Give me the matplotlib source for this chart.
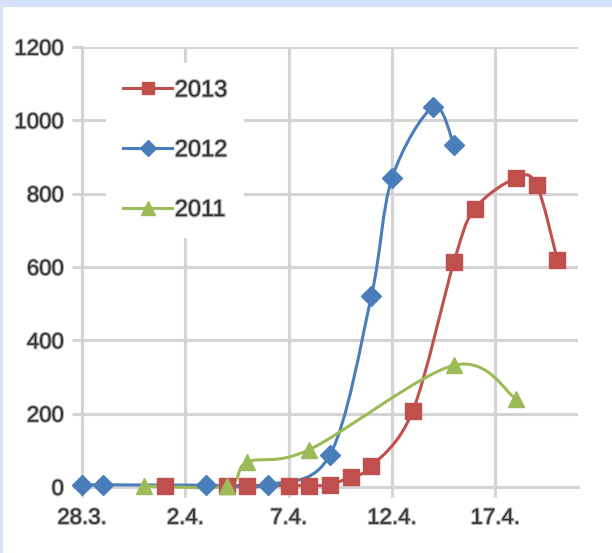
import matplotlib
matplotlib.use("Agg")
import matplotlib.pyplot as plt
import matplotlib.patches as mpatches
import matplotlib.patheffects as pe
from matplotlib.path import Path
from matplotlib.lines import Line2D
from datetime import datetime

# data (date "d.m", value)
dates_2013 = ["1.4", "4.4", "5.4", "7.4", "8.4", "9.4", "10.4", "11.4", "13.4",
              "15.4", "16.4", "18.4", "19.4", "20.4"]
vals_2013 = [4, 4, 4, 4, 4, 6, 28, 56, 207, 614, 758, 843, 823, 620]

dates_2012 = ["28.3", "29.3", "3.4", "6.4", "9.4", "11.4", "12.4", "14.4", "15.4"]
vals_2012 = [6, 6, 5, 6, 88, 520, 842, 1036, 932]

dates_2011 = ["31.3", "4.4", "5.4", "8.4", "15.4", "18.4"]
vals_2011 = [3, 3, 68, 102, 332, 240]

tick_labels = ["28.3.", "2.4.", "7.4.", "12.4.", "17.4."]
tick_dates = ["28.3", "2.4", "7.4", "12.4", "17.4"]

START = datetime(2013, 3, 28)


def day_no(d):
    return (datetime.strptime(d + ".2013", "%d.%m.%Y") - START).days


def smooth_path(xs, ys):
    # excel-like smoothed line (catmull-rom as cubic bezier)
    pts = list(zip(xs, ys))
    verts = [pts[0]]
    codes = [Path.MOVETO]
    n = len(pts)
    for i in range(n - 1):
        p0 = pts[i - 1] if i > 0 else pts[i]
        p1 = pts[i]
        p2 = pts[i + 1]
        p3 = pts[i + 2] if i + 2 < n else pts[i + 1]
        c1 = (p1[0] + (p2[0] - p0[0]) / 6, p1[1] + (p2[1] - p0[1]) / 6)
        c2 = (p2[0] - (p3[0] - p1[0]) / 6, p2[1] - (p3[1] - p1[1]) / 6)
        verts += [c1, c2, p2]
        codes += [Path.CURVE4] * 3
    return Path(verts, codes)


series = [
    ("2013", dates_2013, vals_2013, "#C0504D", "s", 11),
    ("2012", dates_2012, vals_2012, "#4A7EBB", "D", 10),
    ("2011", dates_2011, vals_2011, "#9BBB59", "^", 12),
]

fig = plt.figure(figsize=(6.12, 5.53), dpi=100, facecolor="white")
# lavender frame at top and left
fig.patches.append(mpatches.Rectangle((0, 1 - 7 / 553), 1, 7 / 553, transform=fig.transFigure,
                                      facecolor="#D5E0FB", edgecolor="none", zorder=0))
fig.patches.append(mpatches.Rectangle((0, 0), 3 / 612, 1, transform=fig.transFigure,
                                      facecolor="#D5E0FB", edgecolor="none", zorder=0))

ax = fig.add_axes([82 / 612, 66 / 553, 496 / 612, 440 / 553])
ax.set_facecolor("white")

grid_c = "#D4D4D4"
halo = [pe.withStroke(linewidth=1.6, foreground="#B0B0B0")]
handles = []
for name, ds, vs, col, mk, ms in series:
    xs = [day_no(d) for d in ds]
    ax.add_patch(mpatches.PathPatch(smooth_path(xs, vs), facecolor="none", edgecolor=col,
                                    linewidth=2.2, clip_on=False, zorder=3))
    ax.plot(xs, vs, linestyle="none", marker=mk, markersize=ms, color=col,
            markeredgecolor=col, clip_on=False, zorder=4)
    handles.append(Line2D([], [], color=col, linewidth=2.2, marker=mk, markersize=ms * 0.8,
                          label=name))

ax.set_xlim(0, 24)
ax.set_ylim(0, 1200)
ax.set_xticks([day_no(d) for d in tick_dates])
ax.set_xticklabels(tick_labels)
ax.set_yticks(range(0, 1201, 200))

for s in ["top", "right"]:
    ax.spines[s].set_visible(False)
for s in ["left", "bottom"]:
    ax.spines[s].set_color(grid_c)
    ax.spines[s].set_linewidth(2.2)
ax.grid(True, color=grid_c, linewidth=2.2, zorder=0)
ax.set_axisbelow(True)
ax.tick_params(axis="both", color=grid_c, width=2.2, length=7, labelsize=16,
               labelcolor="#333333")
ax.tick_params(axis="y", pad=6)
ax.tick_params(axis="x", pad=8)
for lab in ax.get_xticklabels() + ax.get_yticklabels():
    lab.set_fontfamily("Liberation Sans")
    lab.set_path_effects(halo)

leg = ax.legend(handles=handles, loc="upper left", bbox_to_anchor=(0.049, 0.9636),
                frameon=True, fancybox=False, edgecolor="none", facecolor="white",
                framealpha=1, handlelength=2.1, labelspacing=1.6,
                borderpad=0.7, handletextpad=0.1, borderaxespad=0,
                prop={"family": "Liberation Sans", "size": 17})
for t in leg.get_texts():
    t.set_color("#333333")
    t.set_path_effects(halo)

fig.savefig("out.png", dpi=100, facecolor="white")
